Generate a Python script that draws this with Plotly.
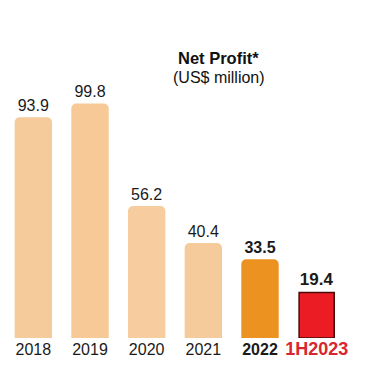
import plotly.graph_objects as go

categories = ["2018", "2019", "2020", "2021", "2022", "1H2023"]
tick_labels = ["2018", "2019", "2020", "2021", "<b>2022</b>",
               "<b><span style='color:#d9262e;font-size:18px'>1H2023</span></b>"]
values_annual = [93.9, 99.8, 56.2, 40.4, 33.5]
value_half = [19.4]
annual_colors = ["#f6cb9c", "#f6c996", "#f7cd9f", "#f6cb9b", "#ec9220"]
annual_labels = ["93.9", "99.8", "56.2", "40.4", "<b>33.5</b>"]
half_labels = ["<b>19.4</b>"]

fig = go.Figure()
fig.add_trace(go.Bar(
    x=categories[:5], y=values_annual,
    marker=dict(color=annual_colors, cornerradius=5, line=dict(width=0)),
    text=annual_labels, textposition="outside",
    textfont=dict(family="Liberation Sans, Arial", size=16, color="#1a1a1a"),
    cliponaxis=False, width=0.66,
))
fig.add_trace(go.Bar(
    x=categories[5:], y=value_half,
    marker=dict(color="#ec1c24", line=dict(color="#4a0a0a", width=1.5)),
    text=half_labels, textposition="outside",
    textfont=dict(family="Liberation Sans, Arial", size=17, color="#1a1a1a"),
    cliponaxis=False, width=0.62,
))

fig.update_layout(
    width=373, height=378,
    margin=dict(l=5, r=28, t=56, b=40),
    paper_bgcolor="white", plot_bgcolor="white",
    barmode="overlay", showlegend=False,
    font=dict(family="Liberation Sans, Arial", size=16, color="#1a1a1a"),
    xaxis=dict(categoryorder="array", categoryarray=categories,
               tickmode="array", tickvals=categories, ticktext=tick_labels,
               showline=False, showgrid=False, zeroline=False, automargin=False,
               tickfont=dict(size=16, color="#1a1a1a")),
    yaxis=dict(range=[0, 120], visible=False, automargin=False),
    annotations=[
        dict(text="<b>Net Profit*</b>", xref="paper", yref="paper",
             x=0.629, y=0.993, xanchor="center", yanchor="middle",
             showarrow=False, font=dict(size=16.5, color="#111")),
        dict(text="(US$ million)", xref="paper", yref="paper",
             x=0.629, y=0.925, xanchor="center", yanchor="middle",
             showarrow=False, font=dict(size=16, color="#111")),
    ],
)

fig.write_html("out.html", config={"displayModeBar": False},
               post_script="document.body.style.margin='0';document.body.style.padding='0';")
